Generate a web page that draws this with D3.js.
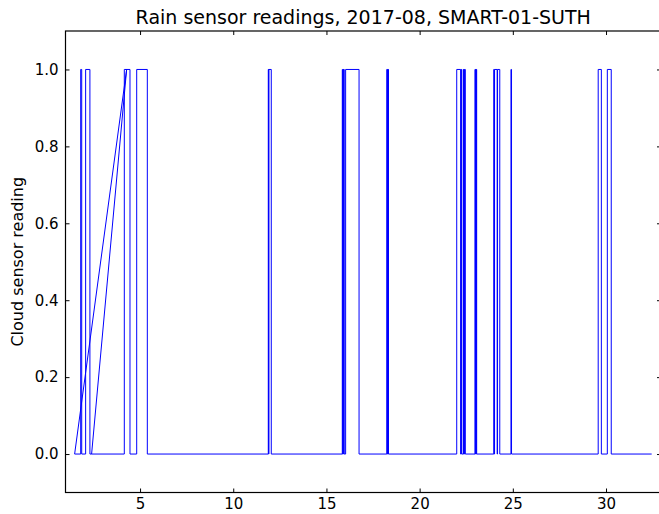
<!DOCTYPE html>
<html>
<head>
<meta charset="utf-8">
<script src="https://cdn.jsdelivr.net/npm/d3@7"></script>
<style>
  html, body { margin: 0; padding: 0; background: #fff; }
  svg { display: block; }
  text { font-family: "DejaVu Sans", sans-serif; }
</style>
</head>
<body>
<div id="chart"></div>
<script>
// ---- data (day of month, sensor value), in recorded order ----
const times = [
  2.40, 4.28, 1.49,
  1.815, 1.815, 1.87, 1.87,
  2.08, 2.08, 2.31, 2.31,
  2.40, 4.155, 4.155, 4.46, 4.46,
  4.82, 4.82, 5.39, 5.39,
  11.88, 11.88, 11.90, 11.90, 11.91, 11.91, 12.04, 12.04,
  15.85, 15.85, 15.87, 15.87, 15.89, 15.89, 15.92, 15.92, 15.93, 15.93, 15.95, 15.95,
  16.03, 16.03, 16.75, 16.75,
  18.24, 18.24, 18.26, 18.26, 18.28, 18.28, 18.30, 18.30, 18.31, 18.31, 18.33, 18.33,
  21.99, 21.99, 22.20, 22.20, 22.22, 22.22, 22.25, 22.25,
  22.34, 22.34, 22.36, 22.36, 22.38, 22.38, 22.40, 22.40, 22.42, 22.42, 22.45, 22.45,
  22.97, 22.97, 22.99, 22.99, 23.01, 23.01, 23.03, 23.03, 23.04, 23.04, 23.06, 23.06,
  23.98, 23.98, 24.00, 24.00, 24.02, 24.02, 24.16, 24.16, 24.18, 24.18, 24.30, 24.30,
  24.90, 24.90, 24.93, 24.93,
  29.58, 29.58, 29.75, 29.75,
  30.07, 30.07, 30.28, 30.28,
  32.45
];
const values = [
  0, 1, 0,
  0, 1, 1, 0,
  0, 1, 1, 0,
  0, 0, 1, 1, 0,
  0, 1, 1, 0,
  0, 1, 1, 0, 0, 1, 1, 0,
  0, 1, 1, 0, 0, 1, 1, 0, 0, 1, 1, 0,
  0, 1, 1, 0,
  0, 1, 1, 0, 0, 1, 1, 0, 0, 1, 1, 0,
  0, 1, 1, 0, 0, 1, 1, 0,
  0, 1, 1, 0, 0, 1, 1, 0, 0, 1, 1, 0,
  0, 1, 1, 0, 0, 1, 1, 0, 0, 1, 1, 0,
  0, 1, 1, 0, 0, 1, 1, 0, 0, 1, 1, 0,
  0, 1, 1, 0,
  0, 1, 1, 0,
  0, 1, 1, 0,
  0
];
const xTicks = [5, 10, 15, 20, 25, 30];
const yTicks = [0.0, 0.2, 0.4, 0.6, 0.8, 1.0];
const titleText = "Rain sensor readings, 2017-08, SMART-01-SUTH";
const yLabelText = "Cloud sensor reading";

// ---- layout ----
const W = 659, H = 514;
const mLeft = 65.5, mRight = 661, mTop = 31, mBottom = 492.5;

const svg = d3.select("#chart").append("svg").attr("width", W).attr("height", H);

const x = d3.scaleLinear().domain([1.0, 32.95]).range([mLeft, mRight]);
const y = d3.scaleLinear().domain([-0.1, 1.1]).range([mBottom, mTop]);

const pts = times.map((t, i) => [t, values[i]]);

svg.append("path")
  .datum(pts)
  .attr("fill", "none")
  .attr("stroke", "#0000ff")
  .attr("stroke-width", 1)
  .attr("d", d3.line().x(d => x(d[0])).y(d => y(d[1])));

// axes
function style(g, labels) {
  g.select(".domain").remove();
  g.selectAll(".tick line").attr("stroke", "#000").attr("stroke-width", 1);
  g.selectAll(".tick text").attr("fill", "#000").style("font-size", "15px")
    .style("font-family", "'DejaVu Sans', sans-serif");
  if (!labels) g.selectAll(".tick text").remove();
}

svg.append("g").attr("transform", `translate(0,${mBottom})`)
  .call(d3.axisBottom(x).tickValues(xTicks).tickSize(-4).tickPadding(6).tickFormat(d3.format("d")))
  .call(g => style(g, true));
svg.append("g").attr("transform", `translate(0,${mTop})`)
  .call(d3.axisTop(x).tickValues(xTicks).tickSize(-4))
  .call(g => style(g, false));
svg.append("g").attr("transform", `translate(${mLeft},0)`)
  .call(d3.axisLeft(y).tickValues(yTicks).tickSize(-4).tickPadding(7).tickFormat(d3.format(".1f")))
  .call(g => style(g, true));
svg.append("g").attr("transform", `translate(${mRight},0)`)
  .call(d3.axisRight(y).tickValues(yTicks).tickSize(-4))
  .call(g => style(g, false));

// frame
svg.append("rect")
  .attr("x", mLeft).attr("y", mTop)
  .attr("width", mRight - mLeft).attr("height", mBottom - mTop)
  .attr("fill", "none").attr("stroke", "#000").attr("stroke-width", 1.2);

// title
svg.append("text")
  .attr("x", (mLeft + mRight) / 2).attr("y", 24)
  .attr("text-anchor", "middle")
  .style("font-size", "19px")
  .text(titleText);

// y label
svg.append("text")
  .attr("transform", `translate(23,${(mTop + mBottom) / 2}) rotate(-90)`)
  .attr("text-anchor", "middle")
  .style("font-size", "16px")
  .text(yLabelText);
</script>
</body>
</html>
